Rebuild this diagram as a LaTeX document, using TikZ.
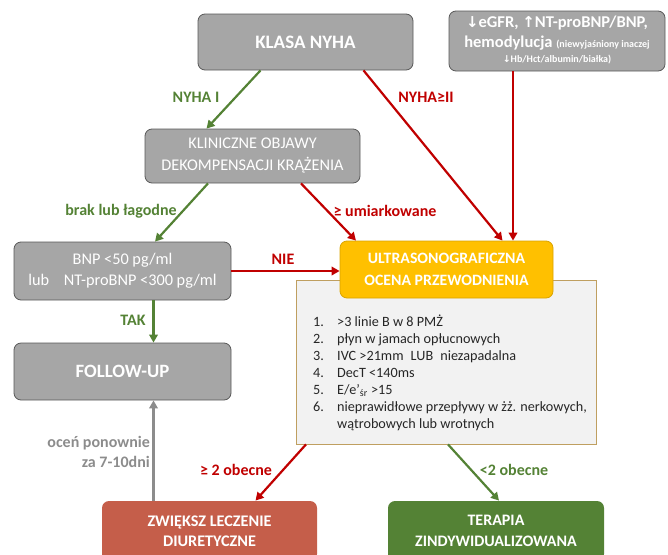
\documentclass[tikz,border=0pt]{standalone}
\usepackage{fontspec}
\setmainfont{Carlito}
\newfontfamily\symfont{DejaVu Sans}
\usetikzlibrary{arrows.meta}

\definecolor{boxgray}{HTML}{A6A6A6}
\definecolor{boxedge}{HTML}{595959}
\definecolor{usgfill}{HTML}{FFC000}
\definecolor{usgedge}{HTML}{D9A300}
\definecolor{listfill}{HTML}{F2F2F2}
\definecolor{listedge}{HTML}{BF9F60}
\definecolor{darkred}{HTML}{C00000}
\definecolor{leafgreen}{HTML}{548235}
\definecolor{rust}{HTML}{C55E4A}
\definecolor{midgray}{HTML}{8C8C8C}
\definecolor{listtext}{HTML}{262626}

\newcommand{\bigsz}{\fontsize{16.5}{20}\selectfont}
\newcommand{\smallsz}{\fontsize{10}{12}\selectfont}

\tikzset{
  graybox/.style={draw=boxedge, fill=boxgray, line width=0.8pt, rounded corners=7pt,
    text=white, align=center, inner sep=2pt},
  usgbox/.style={graybox, draw=usgedge, fill=usgfill},
  endbox/.style={graybox, draw=none},
  redarrow/.style={draw=darkred, line width=2.2pt, -{Triangle[length=8pt,width=8.5pt]}},
  greenarrow/.style={redarrow, draw=leafgreen},
  grayarrow/.style={redarrow, draw=midgray},
  lab/.style={font=\fontsize{16}{19}\selectfont\bfseries, inner sep=0pt}
}

\begin{document}
\begin{tikzpicture}[x=1pt, y=-1pt]
  \useasboundingbox (0,0) rectangle (668,554);

  \node[graybox, minimum width=215pt, minimum height=56pt, font=\fontsize{19}{22}\selectfont\bfseries]
    (klasa) at (305.5,42) {KLASA NYHA};
  \node[graybox, minimum width=216pt, minimum height=60pt, font=\bfseries]
    (markery) at (557,41) {%
    \begin{tabular}{@{}c@{}}
      \bigsz{\symfont\fontsize{15}{18}\selectfont↓}eGFR, {\symfont\fontsize{15}{18}\selectfont↑}NT-proBNP/BNP,\\
      \rule{0pt}{17pt}\bigsz hemodylucja {\smallsz(niewyjaśniony inaczej}\\
      \rule{0pt}{11.5pt}\smallsz{\symfont\fontsize{9.5}{12}\selectfont↓}Hb/Hct/albumin/białka)
    \end{tabular}};
  \node[graybox, minimum width=215pt, minimum height=54pt, font=\fontsize{16.3}{22}\selectfont]
    (objawy) at (252.5,156) {KLINICZNE OBJAWY\\DEKOMPENSACJI KRĄŻENIA};
  \node[graybox, minimum width=217pt, minimum height=58pt, font=\fontsize{16.3}{21}\selectfont]
    (bnp) at (122.5,271) {BNP {<}50 pg/ml\\lub\hspace{0.9em}NT-proBNP {<}300 pg/ml};
  \node[graybox, minimum width=217pt, minimum height=57pt, font=\fontsize{18.8}{22}\selectfont\bfseries]
    (follow) at (122.5,371.5) {FOLLOW-UP};

  % lista kryteriow pod pomaranczowym polem
  \node[draw=listedge, fill=listfill, line width=0.8pt, minimum width=300pt, minimum height=164pt, inner sep=0pt]
    (lista) at (446,362) {};
  \node[anchor=north west, inner sep=0pt, text=listtext, font=\fontsize{14.2}{17}\selectfont]
    (punkty) at (313,314.6) {%
    \begin{tabular}{@{}p{24pt}@{}l@{}}
      1. & {>}3 linie B w 8 PMŻ\\
      2. & płyn w jamach opłucnowych\\
      3. & IVC {>}21mm\hspace{0.5em}LUB\hspace{0.5em}niezapadalna\\
      4. & DecT {<}140ms\\
      5. & E/e’\textsubscript{śr} {>}15\\
      6. & nieprawidłowe przepływy w żż. nerkowych,\\
         & wątrobowych lub wrotnych
    \end{tabular}};
  \node[usgbox, minimum width=213pt, minimum height=57pt, font=\fontsize{15.8}{22}\selectfont\bfseries]
    (usg) at (446.5,269.5) {ULTRASONOGRAFICZNA\\OCENA PRZEWODNIENIA};

  \node[endbox, fill=rust, minimum width=215pt, minimum height=60pt, font=\fontsize{16.2}{20.5}\selectfont\bfseries]
    (zwieksz) at (209.5,531) {ZWIĘKSZ LECZENIE\\DIURETYCZNE};
  \node[endbox, fill=leafgreen, minimum width=216pt, minimum height=60pt, font=\fontsize{16}{20.5}\selectfont\bfseries]
    (terapia) at (496,531) {TERAPIA\\ZINDYWIDUALIZOWANA};

  \draw[greenarrow] ([xshift=-45pt]klasa.south) -- ([xshift=-46pt]objawy.north);
  \draw[redarrow] ([xshift=58pt]klasa.south) -- ([xshift=56pt]usg.north);
  \draw[redarrow] ([xshift=-44pt]markery.south) -- ([xshift=66.5pt]usg.north);
  \draw[greenarrow] ([xshift=-44.5pt]objawy.south) -- ([xshift=32.5pt]bnp.north);
  \draw[redarrow] ([xshift=48.5pt]objawy.south) -- ([xshift=-90.5pt]usg.north);
  \draw[redarrow] (bnp.east) -- (bnp.east -| usg.west);
  \draw[greenarrow] ([xshift=31pt]bnp.south) -- ([xshift=31pt]follow.north);
  \draw[grayarrow] ([xshift=-56pt]zwieksz.north) -- ([xshift=31pt]follow.south);
  \draw[redarrow] ([xshift=-140pt]lista.south) -- ([xshift=46pt]zwieksz.north);
  \draw[greenarrow] ([xshift=2pt]lista.south) -- ([xshift=3pt]terapia.north);

  \node[lab, text=leafgreen] (nyha1) at (196,97) {NYHA I};
  \node[lab, text=darkred] (nyha2) at (426,97) {NYHA≥II};
  \node[lab, text=leafgreen] (lagodne) at (121,211) {brak lub łagodne};
  \node[lab, text=darkred] (umiark) at (385,211) {≥ umiarkowane};
  \node[lab, text=darkred] (nie) at (283,259) {NIE};
  \node[lab, text=leafgreen] (tak) at (133,320) {TAK};
  \node[lab, text=midgray, align=right, anchor=east, font=\fontsize{16}{20}\selectfont\bfseries]
    (ocen) at (150,452) {oceń ponownie\\za 7-10dni};
  \node[lab, text=darkred] (dwa) at (236,470) {≥ 2 obecne};
  \node[lab, text=leafgreen] (mniej) at (514,470) {<2 obecne};
\end{tikzpicture}
\end{document}
